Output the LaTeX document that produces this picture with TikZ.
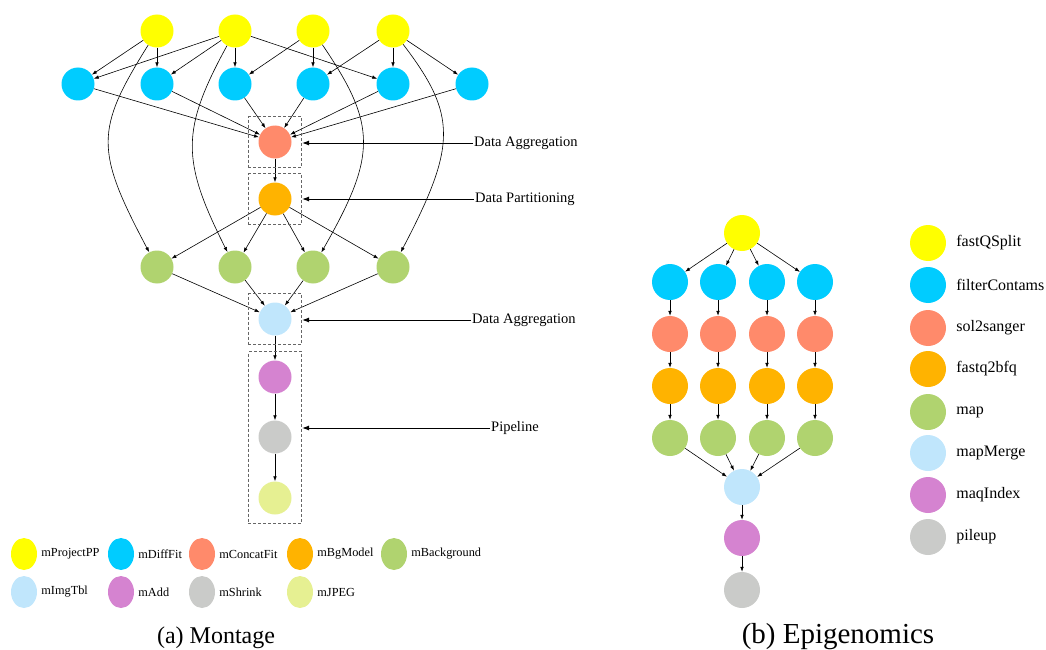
\documentclass[tikz,border=0pt]{standalone}
\usepackage{fontspec}
\setmainfont{Liberation Serif}
\usetikzlibrary{arrows.meta,fit,positioning,shapes.geometric}

\definecolor{cProject}{HTML}{FFFF00}
\definecolor{cDiff}{HTML}{00CCFF}
\definecolor{cConcat}{HTML}{FF8A6B}
\definecolor{cBg}{HTML}{FFB300}
\definecolor{cBack}{HTML}{B0D36F}
\definecolor{cImg}{HTML}{C0E6FC}
\definecolor{cAdd}{HTML}{D583D0}
\definecolor{cShrink}{HTML}{CACBC9}
\definecolor{cJpeg}{HTML}{E6F092}

\tikzset{
  job/.style={circle,minimum size=33pt,inner sep=0pt},
  ejob/.style={circle,minimum size=36pt,inner sep=0pt},
  edge/.style={-{Latex[length=5pt,width=3.6pt]},line width=0.6pt},
  callout/.style={-{Latex[length=7pt,width=5pt]},line width=0.9pt},
  dashbox/.style={draw=black!60,dash pattern=on 3pt off 2pt,line width=0.8pt,inner xsep=10pt,inner ysep=8.5pt},
  lbl/.style={inner sep=1pt,font=\fontsize{14.5}{17}\selectfont},
  key/.style={ellipse,minimum width=26pt,minimum height=32pt,inner sep=0pt},
  keytext/.style={inner sep=1pt,font=\fontsize{12.3}{15}\selectfont},
  ekeytext/.style={inner sep=1pt,font=\fontsize{16}{19}\selectfont},
  caption/.style={anchor=base,inner sep=0pt}
}

\begin{document}
\begin{tikzpicture}[x=1pt,y=-1pt]
    \useasboundingbox (0,0) rectangle (1046,650);

    % Montage
    \foreach \i/\x in {1/157,2/235,3/313,4/393}{
        \node[job,fill=cProject] (y\i) at (\x,31) {};
        \node[job,fill=cBack] (b\i) at (\x,267) {};
    }
    \foreach \i/\x in {1/78,2/157,3/235,4/313,5/393,6/472}{
        \node[job,fill=cDiff] (d\i) at (\x,84) {};
    }
    \node[job,fill=cConcat] (cf) at (275,142) {};
    \node[job,fill=cBg] (bg) at (275,199) {};
    \node[job,fill=cImg] (it) at (275,319) {};
    \node[job,fill=cAdd] (ad) at (275,377) {};
    \node[job,fill=cShrink] (sh) at (275,437) {};
    \node[job,fill=cJpeg] (jp) at (275,498) {};

    \foreach \a/\b in {y1/d1,y1/d2,y2/d1,y2/d2,y2/d3,y2/d5,y3/d3,y3/d4,y4/d4,y4/d5,y4/d6}{
        \draw[edge] (\a) -- (\b);
    }
    \foreach \i in {1,...,6}{
        \draw[edge] (d\i) -- (cf);
    }
    \draw[edge] (cf) -- (bg);
    \foreach \i in {1,...,4}{
        \draw[edge] (bg) -- (b\i);
        \draw[edge] (b\i) -- (it);
    }
    \draw[edge] (y1) .. controls (95,130) and (95,150) .. (b1);
    \draw[edge] (y2) .. controls (181,130) and (181,160) .. (b2);
    \draw[edge] (y3) .. controls (377,125) and (377,155) .. (b3);
    \draw[edge] (y4) .. controls (457,115) and (457,145) .. (b4);
    \draw[edge] (it) -- (ad);
    \draw[edge] (ad) -- (sh);
    \draw[edge] (sh) -- (jp);

    \node[dashbox,fit=(cf)] (box1) {};
    \node[dashbox,fit=(bg)] (box2) {};
    \node[dashbox,fit=(it)] (box3) {};
    \node[dashbox,fit=(ad)(jp)] (box4) {};

    \node[lbl,anchor=west] (l1) at (473,143) {Data Aggregation};
    \node[lbl,anchor=west] (l2) at (474,199) {Data Partitioning};
    \node[lbl,anchor=west] (l3) at (471,320) {Data Aggregation};
    \node[lbl,anchor=west] (l4) at (490,428) {Pipeline};
    \foreach \n in {1,...,4}{
        \draw[callout] (l\n.west) -- (box\n.east |- l\n.west);
    }

    \foreach \x/\c/\t in {24/cProject/mProjectPP,121/cDiff/mDiffFit,202/cConcat/mConcatFit,300/cBg/mBgModel,394/cBack/mBackground}{
        \node[key,fill=\c] (k\t) at (\x,554) {};
        \node[keytext,right=3pt of k\t] {\t};
    }
    \foreach \x/\c/\t in {24/cImg/mImgTbl,121/cAdd/mAdd,202/cShrink/mShrink,300/cJpeg/mJPEG}{
        \node[key,fill=\c] (k\t) at (\x,592) {};
        \node[keytext,right=3pt of k\t] {\t};
    }
    \node[caption,font=\fontsize{24}{28}\selectfont] (capa) at (216,643) {(a) Montage};

    % Epigenomics
    \node[ejob,fill=cProject] (fq) at (742,233) {};
    \foreach \i/\x in {1/670,2/718,3/767,4/815}{
        \node[ejob,fill=cDiff] (fc\i) at (\x,282) {};
        \node[ejob,fill=cConcat] (ss\i) at (\x,334) {};
        \node[ejob,fill=cBg] (fb\i) at (\x,386) {};
        \node[ejob,fill=cBack] (mp\i) at (\x,438) {};
    }
    \node[ejob,fill=cImg] (mm) at (742,487) {};
    \node[ejob,fill=cAdd] (mi) at (742,538) {};
    \node[ejob,fill=cShrink] (pu) at (742,590) {};

    \foreach \i in {1,...,4}{
        \draw[edge] (fq) -- (fc\i);
        \draw[edge] (fc\i) -- (ss\i);
        \draw[edge] (ss\i) -- (fb\i);
        \draw[edge] (fb\i) -- (mp\i);
        \draw[edge] (mp\i) -- (mm);
    }
    \draw[edge] (mm) -- (mi);
    \draw[edge] (mi) -- (pu);

    \foreach \y/\c/\t in {243/cProject/fastQSplit,285/cDiff/filterContams,328/cConcat/sol2sanger,369/cBg/fastq2bfq,412/cBack/map,453/cImg/mapMerge,495/cAdd/maqIndex,537/cShrink/pileup}{
        \node[ejob,fill=\c] (e\t) at (928,\y) {};
        \node[ekeytext,right=9pt of e\t] {\t};
    }
    \node[caption,font=\fontsize{29}{33}\selectfont] (capb) at (838,643) {(b) Epigenomics};
\end{tikzpicture}
\end{document}
